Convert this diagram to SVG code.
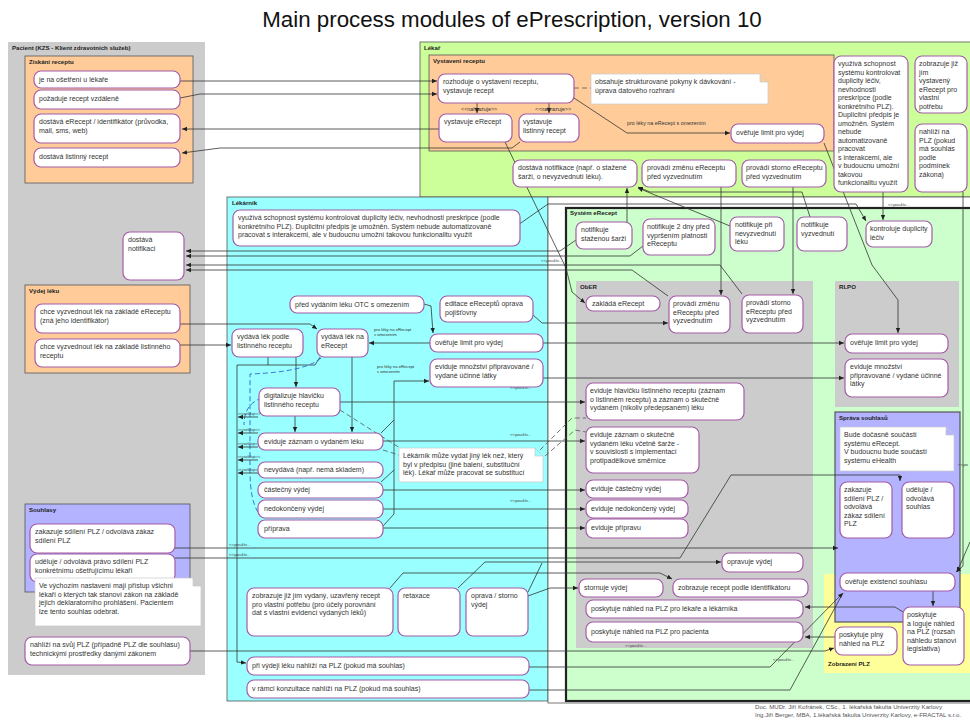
<svg xmlns="http://www.w3.org/2000/svg" width="970" height="722" viewBox="0 0 970 722">
<defs>
<style>
text{font-family:"Liberation Sans",Arial,sans-serif;fill:#333}
.t{font-size:7px}
.lb{font-size:6.1px;font-weight:bold;fill:#222}
.s{font-size:4.2px}
.m{font-size:5.4px}
.r{font-size:3.6px}
.u{font-size:4.4px;fill:#444}
.f{font-size:6.1px;fill:#555}
.n{fill:#fff;stroke:#a45aa8;stroke-width:1.2}
.note{fill:#fff;stroke:#c8c8c8;stroke-width:0.7}
.c{fill:none;stroke:#333;stroke-width:0.8}
.a{marker-end:url(#ah)}
.d{fill:none;stroke:#555;stroke-width:0.8;stroke-dasharray:5 3}
.bd{fill:none;stroke:#3a6fd8;stroke-width:1;stroke-dasharray:5 3}
</style>
<marker id="ah" markerWidth="6" markerHeight="6" refX="5" refY="3" orient="auto" markerUnits="userSpaceOnUse"><path d="M0,0.8 L5,3 L0,5.2 Z" fill="#222"/></marker>
</defs>
<rect width="970" height="722" fill="#fff"/>
<text x="512" y="27" text-anchor="middle" style="font-size:22.3px;fill:#111">Main process modules of ePrescription, version 10</text>

<!-- swimlanes and packages -->
<g id="zones">
<rect x="8" y="42" width="197" height="633" fill="#cccccc"/>
<text class="lb" x="12" y="50">Pacient (KZS - Klient zdravotních služeb)</text>
<rect x="25" y="56" width="168" height="127" fill="#ffcc99" stroke="#555" stroke-width="0.8"/>
<text class="lb" x="29" y="64">Získání receptu</text>
<rect x="25" y="285" width="165" height="88" fill="#ffcc99" stroke="#555" stroke-width="0.8"/>
<text class="lb" x="29" y="293">Výdej léku</text>
<rect x="25" y="504" width="165" height="88" fill="#b3b3ff" stroke="#555" stroke-width="0.8"/>
<text class="lb" x="29" y="512">Souhlasy</text>
<rect x="420" y="42" width="552" height="155" fill="#ccff99" stroke="#555" stroke-width="0.8"/>
<text class="lb" x="424" y="50">Lékař</text>
<rect x="429" y="55" width="405" height="96" fill="#ffcc99" stroke="#555" stroke-width="0.8"/>
<text class="lb" x="433" y="63">Vystavení receptu</text>
<rect x="227" y="197" width="321" height="504" fill="#99ffff" stroke="#555" stroke-width="0.8"/>
<text class="lb" x="232" y="205">Lékárník</text>
<rect x="548" y="197" width="424" height="506" fill="#fff" stroke="#555" stroke-width="0.8"/>
<rect x="566" y="208" width="410" height="493" fill="#ccffcc" stroke="#222" stroke-width="2.2"/>
<text class="lb" x="570" y="215">Systém eRecept</text>
<rect x="576" y="281" width="237" height="367" fill="#cccccc"/>
<text class="lb" x="580" y="289">ObER</text>
<rect x="835" y="281" width="124" height="126" fill="#cccccc"/>
<text class="lb" x="839" y="289">RLPO</text>
<rect x="824" y="574" width="148" height="99" fill="#ffff99"/>
<text class="lb" x="828" y="666">Zobrazení PLZ</text>
<rect x="835" y="412" width="125" height="210" fill="#b3b3ff" stroke="#555" stroke-width="1.2"/>
<text class="lb" x="839" y="420">Správa souhlasů</text>
</g>

<!-- connectors -->
<g id="connectors">
<path class="c a" d="M180,81 H437"/>
<path class="c a" d="M180,98 L200,94 H437"/>
<path class="c a" d="M439,129 H182"/>
<path class="c a" d="M520,142 L512,148 H220 L182,153"/>
<path class="c a" d="M477,103 V113"/>
<path class="c a" d="M549,103 V113"/>
<text class="m" x="461" y="111">&lt;&lt;nahrazuje&gt;&gt;</text>
<text class="m" x="535" y="111">&lt;&lt;nahrazuje&gt;&gt;</text>
<path class="d" d="M574,88 H591"/>
<path class="c a" d="M574,98 L627,133 H730"/>
<text class="m" x="627" y="125">pro léky na eRecept s omezením</text>
<path class="c a" d="M824,143 L872,265 L898,300 V333"/>
<path class="c a" d="M721,187 V295"/>
<path class="c a" d="M793,187 V294"/>
<path class="c a" d="M883,192 V220"/>
<text class="u" x="888" y="206">&lt;&lt;použív...</text>
<path class="c a" d="M963,192 V566 L956,572"/>
<path class="c a" d="M970,542 L957,572"/>
<path class="c a" d="M627,222 V188"/>
<path class="c a" d="M810,217 L802,192 H650 L638,187"/>
<path class="c a" d="M730,226 L638,188"/>
<path class="c a" d="M518,225 L548,204 H856 L866,221"/>
<path class="c a" d="M576,240 L560,251 H186"/>
<path class="c a" d="M643,246 L630,256 H186"/>
<path class="c a" d="M742,294 L720,265 H186"/>
<path class="c a" d="M668,296 L632,270 H186"/>
<path class="c a" d="M505,142 L566,268 L572,292 L585,303"/>
<text class="u" x="541" y="262">&lt;&lt;použív...</text>
<path class="c a" d="M533,315 L542,323 H668"/>
<path class="c a" d="M543,343 H844"/>
<path class="c a" d="M543,378 H844"/>
<text class="u" x="510" y="389">&lt;&lt;použív...</text>
<path class="c a" d="M340,402 H585"/>
<path class="c a" d="M383,441 H585"/>
<text class="u" x="510" y="436">&lt;&lt;použív...</text>
<path class="c a" d="M383,490 H585"/>
<path class="c a" d="M383,509 H585"/>
<text class="u" x="510" y="502">&lt;&lt;použív...</text>
<path class="c a" d="M383,528 H585"/>
<path class="c a" d="M383,526 L394,514 V381 H429"/>
<path class="c" d="M381,433 L394,420"/>
<path class="c" d="M381,482 L394,470"/>
<path class="c a" d="M352,357 V432"/>
<path class="c a" d="M296,357 V387"/>
<path class="c a" d="M295,416 V432"/>
<path class="c a" d="M430,343 H369"/>
<text class="s" x="374" y="331">pro léky na eRecept</text>
<text class="s" x="374" y="336">s omezením</text>
<text class="s" x="377" y="368">pro léky na eRecept</text>
<text class="s" x="377" y="373">s omezením</text>
<path class="c a" d="M424,304 L431,306 L433,333"/>
<path class="c a" d="M180,324 H310 L317,329"/>
<path class="c a" d="M180,345 H231"/>
<path class="c a" d="M320,357 L315,365 H237 V662 L246,663"/>
<path class="c" d="M268,357 V365"/>
<path class="bd" d="M321,358 Q305,372 250,374 V470 Q250,500 258,512"/>
<path class="bd" d="M262,398 Q244,404 244,425"/>
<path class="c a" d="M258,417 H238"/><text class="r" x="238" y="415">&lt;&lt;rozšiřuje&gt;&gt;</text>
<path class="c a" d="M258,433 H238"/><text class="r" x="238" y="431">&lt;&lt;rozšiřuje&gt;&gt;</text>
<path class="c a" d="M258,447 H238"/><text class="r" x="238" y="445">&lt;&lt;rozšiřuje&gt;&gt;</text>
<path class="c a" d="M258,460 H238"/><text class="r" x="238" y="458">&lt;&lt;rozšiřuje&gt;&gt;</text>
<path class="c a" d="M258,473 H238"/><text class="r" x="238" y="471">&lt;&lt;rozšiřuje&gt;&gt;</text>
<path class="d" d="M340,410 L400,448"/>
<path class="d" d="M383,450 L399,455"/>
<path class="d" d="M540,450 L572,418 L586,418"/>
<path class="d" d="M545,456 L575,430 L586,432"/>
<path class="c a" d="M175,548 H838"/>
<path class="c a" d="M175,558 H680 L731,475 H900 V481"/>
<text class="u" x="229" y="546">&lt;&lt;použív...</text>
<text class="u" x="229" y="556">&lt;&lt;použív...</text>
<path class="c a" d="M458,588 L485,562 H721"/>
<path class="c" d="M528,592 L542,563"/>
<path class="c a" d="M390,588 L403,573 H660 L672,579"/>
<path class="c a" d="M528,596 L550,588 H578"/>
<path class="c a" d="M933,591 V606"/>
<path class="c a" d="M903,612 L895,607 H805"/>
<path class="c a" d="M835,637 H805"/>
<path class="c a" d="M190,651 H825 L834,648"/>
<text class="u" x="773" y="661">&lt;&lt;použív...</text>
<path class="c a" d="M529,667 H770 L843,593"/>
<path class="c" d="M529,690 H790 L843,593"/>
</g>

<!-- Pacient -->
<g id="n-je-na-osetreni"><rect class="n" x="34" y="71" width="146" height="17" rx="7"/><text class="t" x="39" y="82">je na ošetření u lékaře</text></g>
<g id="n-pozaduje"><rect class="n" x="34" y="90" width="146" height="19" rx="7"/><text class="t" x="39" y="101">požaduje recept vzdáleně</text></g>
<g id="n-dostava-erecept"><rect class="n" x="34" y="114" width="146" height="29" rx="7"/><text class="t" x="39" y="124">dostává eRecept / identifikátor (průvodka,<tspan x="39" dy="8.5">mail, sms, web)</tspan></text></g>
<g id="n-dostava-listinny"><rect class="n" x="34" y="148" width="146" height="19" rx="7"/><text class="t" x="39" y="159">dostává listinný recept</text></g>
<g id="n-dostava-notifikaci"><rect class="n" x="123" y="232" width="61" height="48" rx="7"/><text class="t" x="128" y="242">dostává<tspan x="128" dy="8.5">notifikaci</tspan></text></g>
<g id="n-chce-erecept"><rect class="n" x="35" y="304" width="145" height="29" rx="7"/><text class="t" x="40" y="314">chce vyzvednout lék na základě eReceptu<tspan x="40" dy="8.5">(zná jeho identifikátor)</tspan></text></g>
<g id="n-chce-listinny"><rect class="n" x="35" y="339" width="145" height="28" rx="7"/><text class="t" x="40" y="349">chce vyzvednout lék na základě listinného<tspan x="40" dy="8.5">receptu</tspan></text></g>
<g id="n-zakazuje-p"><rect class="n" x="30" y="524" width="145" height="29" rx="7"/><text class="t" x="35" y="534">zakazuje sdílení PLZ / odvolává zákaz<tspan x="35" dy="8.5">sdílení PLZ</tspan></text></g>
<g id="n-udeluje-p"><rect class="n" x="30" y="554" width="145" height="28" rx="7"/><text class="t" x="35" y="564">uděluje / odvolává právo sdílení PLZ<tspan x="35" dy="8.5">konkrétnímu ošetřujícímu lékaři</tspan></text></g>
<g id="note-souhlas"><path class="note" d="M35,578 H193 L201,586 V626 H35 Z M193,578 V586 H201"/><text class="t" x="39" y="588">Ve výchozím nastavení mají přístup všichni<tspan x="39" dy="8.5">lékaři o kterých tak stanoví zákon na základě</tspan><tspan x="39" dy="8.5">jejich deklaratorního prohlášení. Pacientem</tspan><tspan x="39" dy="8.5">lze tento souhlas odebrat.</tspan></text></g>
<g id="n-nahlizi-p"><rect class="n" x="25" y="637" width="165" height="28" rx="7"/><text class="t" x="30" y="647">nahlíží na svůj PLZ (případně PLZ dle souhlasu)<tspan x="30" dy="8.5">technickými prostředky danými zákonem</tspan></text></g>

<!-- Lékař -->
<g id="n-rozhoduje"><rect class="n" x="438" y="74" width="136" height="29" rx="7"/><text class="t" x="443" y="84">rozhoduje o vystavení receptu,<tspan x="443" dy="8.5">vystavuje recept</tspan></text></g>
<g id="note-pokyny"><path class="note" d="M591,74 H760 L768,82 V104 H591 Z M760,74 V82 H768"/><text class="t" x="595" y="84">obsahuje strukturované pokyny k dávkování -<tspan x="595" dy="8.5">úprava datového rozhraní</tspan></text></g>
<g id="n-vystavuje-erecept"><rect class="n" x="439" y="114" width="73" height="28" rx="7"/><text class="t" x="444" y="124">vystavuje eRecept</text></g>
<g id="n-vystavuje-listinny"><rect class="n" x="519" y="114" width="60" height="28" rx="7"/><text class="t" x="523" y="124">vystavuje<tspan x="523" dy="8.5">listinný recept</tspan></text></g>
<g id="n-overuje-limit-l"><rect class="n" x="731" y="124" width="93" height="19" rx="7"/><text class="t" x="736" y="135">ověřuje limit pro výdej</text></g>
<g id="n-dostava-notifikace"><rect class="n" x="513" y="160" width="124" height="27" rx="7"/><text class="t" x="518" y="170">dostává notifikace (např. o stažené<tspan x="518" dy="8.5">šarži, o nevyzvednutí léku).</tspan></text></g>
<g id="n-zmena-l"><rect class="n" x="642" y="160" width="94" height="27" rx="7"/><text class="t" x="647" y="170">provádí změnu eReceptu<tspan x="647" dy="8.5">před vyzvednutím</tspan></text></g>
<g id="n-storno-l"><rect class="n" x="742" y="160" width="84" height="27" rx="7"/><text class="t" x="746" y="170">provádí storno eReceptu<tspan x="746" dy="8.5">před vyzvednutím</tspan></text></g>
<g id="n-vyuziva-l"><rect class="n" x="834" y="56" width="74" height="136" rx="7"/><text class="t" x="838" y="66">využívá schopnost<tspan x="838" dy="8.5">systému kontrolovat</tspan><tspan x="838" dy="8.5">duplicity léčiv,</tspan><tspan x="838" dy="8.5">nevhodnosti</tspan><tspan x="838" dy="8.5">preskripce (podle</tspan><tspan x="838" dy="8.5">konkrétního PLZ).</tspan><tspan x="838" dy="8.5">Duplicitní předpis je</tspan><tspan x="838" dy="8.5">umožněn. Systém</tspan><tspan x="838" dy="8.5">nebude</tspan><tspan x="838" dy="8.5">automatizovaně</tspan><tspan x="838" dy="8.5">pracovat</tspan><tspan x="838" dy="8.5">s interakcemi, ale</tspan><tspan x="838" dy="8.5">v budoucnu umožní</tspan><tspan x="838" dy="8.5">takovou</tspan><tspan x="838" dy="8.5">funkcionalitu využít</tspan></text></g>
<g id="n-zobrazuje-l"><rect class="n" x="915" y="56" width="52" height="57" rx="7"/><text class="t" x="919" y="66">zobrazuje již<tspan x="919" dy="8.5">jím</tspan><tspan x="919" dy="8.5">vystavený</tspan><tspan x="919" dy="8.5">eRecept pro</tspan><tspan x="919" dy="8.5">vlastní</tspan><tspan x="919" dy="8.5">potřebu</tspan></text></g>
<g id="n-nahlizi-l"><rect class="n" x="915" y="124" width="52" height="68" rx="7"/><text class="t" x="919" y="134">nahlíží na<tspan x="919" dy="8.5">PLZ (pokud</tspan><tspan x="919" dy="8.5">má souhlas</tspan><tspan x="919" dy="8.5">podle</tspan><tspan x="919" dy="8.5">podmínek</tspan><tspan x="919" dy="8.5">zákona)</tspan></text></g>

<!-- Lékárník -->
<g id="n-vyuziva-k"><rect class="n" x="233" y="210" width="287" height="36" rx="7"/><text class="t" x="238" y="220">využívá schopnost systému kontrolovat duplicity léčiv, nevhodnosti preskripce (podle<tspan x="238" dy="8.5">konkrétního PLZ). Duplicitní předpis je umožněn. Systém nebude automatizovaně</tspan><tspan x="238" dy="8.5">pracovat s interakcemi, ale v budoucnu umožní takovou funkcionalitu využít</tspan></text></g>
<g id="n-otc"><rect class="n" x="290" y="296" width="134" height="17" rx="7"/><text class="t" x="295" y="307">před vydáním léku OTC s omezením</text></g>
<g id="n-editace"><rect class="n" x="440" y="296" width="93" height="26" rx="7"/><text class="t" x="445" y="306">editace eReceptů oprava<tspan x="445" dy="8.5">pojišťovny</tspan></text></g>
<g id="n-vydava-listinny"><rect class="n" x="232" y="329" width="71" height="28" rx="7"/><text class="t" x="237" y="339">vydává lék podle<tspan x="237" dy="8.5">listinného receptu</tspan></text></g>
<g id="n-vydava-erecept"><rect class="n" x="317" y="329" width="51" height="28" rx="7"/><text class="t" x="321" y="339">vydává lék na<tspan x="321" dy="8.5">eRecept</tspan></text></g>
<g id="n-overuje-limit-k"><rect class="n" x="430" y="334" width="113" height="18" rx="7"/><text class="t" x="435" y="345">ověřuje limit pro výdej</text></g>
<g id="n-eviduje-mnozstvi-k"><rect class="n" x="430" y="359" width="113" height="28" rx="7"/><text class="t" x="435" y="369">eviduje množství připravované /<tspan x="435" dy="8.5">vydané účinné látky</tspan></text></g>
<g id="n-digitalizuje"><rect class="n" x="259" y="388" width="81" height="28" rx="7"/><text class="t" x="264" y="398">digitalizuje hlavičku<tspan x="264" dy="8.5">listinného receptu</tspan></text></g>
<g id="n-eviduje-zaznam"><rect class="n" x="258" y="433" width="125" height="17" rx="7"/><text class="t" x="264" y="444">eviduje záznam o vydaném léku</text></g>
<g id="note-substituce"><path class="note" d="M399,448 H535 L543,456 V482 H399 Z M535,448 V456 H543"/><text class="t" x="403" y="458">Lékárník může vydat jiný lék než, který<tspan x="403" dy="8.5">byl v předpisu (jiné balení, substituční</tspan><tspan x="403" dy="8.5">lék). Lékař může pracovat se substitucí</tspan></text></g>
<g id="n-nevydava"><rect class="n" x="258" y="462" width="125" height="16" rx="7"/><text class="t" x="264" y="472">nevydává (např. nemá skladem)</text></g>
<g id="n-castecny"><rect class="n" x="258" y="482" width="125" height="16" rx="7"/><text class="t" x="264" y="492">částečný výdej</text></g>
<g id="n-nedokonceny"><rect class="n" x="258" y="500" width="125" height="18" rx="7"/><text class="t" x="264" y="511">nedokončený výdej</text></g>
<g id="n-priprava"><rect class="n" x="258" y="520" width="125" height="18" rx="7"/><text class="t" x="264" y="531">příprava</text></g>
<g id="n-zobrazuje-k"><rect class="n" x="247" y="588" width="146" height="48" rx="7"/><text class="t" x="252" y="598">zobrazuje již jím vydaný, uzavřený recept<tspan x="252" dy="8.5">pro vlastní potřebu (pro účely porovnání</tspan><tspan x="252" dy="8.5">dat s vlastní evidencí vydaných léků)</tspan></text></g>
<g id="n-retaxace"><rect class="n" x="398" y="588" width="62" height="48" rx="7"/><text class="t" x="403" y="598">retaxace</text></g>
<g id="n-oprava-storno"><rect class="n" x="466" y="588" width="62" height="48" rx="7"/><text class="t" x="471" y="598">oprava / storno<tspan x="471" dy="8.5">výdej</tspan></text></g>
<g id="n-pri-vydeji"><rect class="n" x="247" y="657" width="282" height="18" rx="7"/><text class="t" x="252" y="668">při výdeji léku nahlíží na PLZ (pokud má souhlas)</text></g>
<g id="n-konzultace"><rect class="n" x="247" y="680" width="282" height="18" rx="7"/><text class="t" x="252" y="691">v rámci konzultace nahlíží na PLZ (pokud má souhlas)</text></g>

<!-- Systém eRecept -->
<g id="n-notif-sarze"><rect class="n" x="576" y="222" width="56" height="27" rx="7"/><text class="t" x="581" y="232">notifikuje<tspan x="581" dy="8.5">staženou šarži</tspan></text></g>
<g id="n-notif-2dny"><rect class="n" x="643" y="219" width="72" height="36" rx="7"/><text class="t" x="647" y="229">notifikuje 2 dny před<tspan x="647" dy="8.5">vypršením platnosti</tspan><tspan x="647" dy="8.5">eReceptu</tspan></text></g>
<g id="n-notif-nevyzvednuti"><rect class="n" x="730" y="217" width="54" height="34" rx="7"/><text class="t" x="735" y="227">notifikuje při<tspan x="735" dy="8.5">nevyzvednutí</tspan><tspan x="735" dy="8.5">léku</tspan></text></g>
<g id="n-notif-vyzvednuti"><rect class="n" x="797" y="217" width="50" height="34" rx="7"/><text class="t" x="801" y="227">notifikuje<tspan x="801" dy="8.5">vyzvednutí</tspan></text></g>
<g id="n-kontroluje"><rect class="n" x="866" y="221" width="66" height="26" rx="7"/><text class="t" x="870" y="231">kontroluje duplicity<tspan x="870" dy="8.5">léčiv</tspan></text></g>
<g id="n-zaklada"><rect class="n" x="586" y="296" width="74" height="15" rx="7"/><text class="t" x="592" y="306">zakládá eRecept</text></g>
<g id="n-zmena-o"><rect class="n" x="669" y="296" width="61" height="37" rx="7"/><text class="t" x="673" y="306">provádí změnu<tspan x="673" dy="8.5">eReceptu před</tspan><tspan x="673" dy="8.5">vyzvednutím</tspan></text></g>
<g id="n-storno-o"><rect class="n" x="742" y="295" width="61" height="38" rx="7"/><text class="t" x="746" y="305">provádí storno<tspan x="746" dy="8.5">eReceptu před</tspan><tspan x="746" dy="8.5">vyzvednutím</tspan></text></g>
<g id="n-eviduje-hlavicku"><rect class="n" x="586" y="383" width="158" height="37" rx="7"/><text class="t" x="590" y="393">eviduje hlavičku listinného receptu (záznam<tspan x="590" dy="8.5">o listinném receptu) a záznam o skutečně</tspan><tspan x="590" dy="8.5">vydaném (nikoliv předepsaném) léku</tspan></text></g>
<g id="n-eviduje-sarze"><rect class="n" x="586" y="427" width="113" height="46" rx="7"/><text class="t" x="590" y="437">eviduje záznam o skutečně<tspan x="590" dy="8.5">vydaném léku včetně šarže -</tspan><tspan x="590" dy="8.5">v souvislosti s implementací</tspan><tspan x="590" dy="8.5">protipadělkové směrnice</tspan></text></g>
<g id="n-ev-castecny"><rect class="n" x="586" y="480" width="102" height="18" rx="7"/><text class="t" x="591" y="491">eviduje částečný výdej</text></g>
<g id="n-ev-nedokonceny"><rect class="n" x="586" y="500" width="102" height="18" rx="7"/><text class="t" x="591" y="511">eviduje nedokončený výdej</text></g>
<g id="n-ev-pripravu"><rect class="n" x="586" y="519" width="102" height="19" rx="7"/><text class="t" x="591" y="530">eviduje přípravu</text></g>
<g id="n-opravuje"><rect class="n" x="722" y="553" width="81" height="19" rx="7"/><text class="t" x="727" y="564">opravuje výdej</text></g>
<g id="n-stornuje"><rect class="n" x="579" y="579" width="84" height="18" rx="7"/><text class="t" x="584" y="590">stornuje výdej</text></g>
<g id="n-zobrazuje-recept"><rect class="n" x="673" y="579" width="135" height="18" rx="7"/><text class="t" x="678" y="590">zobrazuje recept podle identifikátoru</text></g>
<g id="n-nahled-lekar"><rect class="n" x="586" y="600" width="217" height="18" rx="7"/><text class="t" x="591" y="611">poskytuje náhled na PLZ pro lékaře a lékárníka</text></g>
<g id="n-nahled-pacient"><rect class="n" x="586" y="622" width="217" height="20" rx="7"/><text class="t" x="591" y="634">poskytuje náhled na PLZ pro pacienta</text></g>
<text class="u" x="625" y="647">&lt;&lt;použív...</text>
<g id="n-overuje-limit-r"><rect class="n" x="845" y="334" width="103" height="19" rx="7"/><text class="t" x="850" y="345">ověřuje limit pro výdej</text></g>
<g id="n-eviduje-mnozstvi-r"><rect class="n" x="845" y="359" width="103" height="38" rx="7"/><text class="t" x="850" y="369">eviduje množství<tspan x="850" dy="8.5">připravované / vydané účinné</tspan><tspan x="850" dy="8.5">látky</tspan></text></g>
<g id="note-ehealth"><path class="note" d="M840,427 H946 L954,435 V471 H840 Z M946,427 V435 H954"/><text class="t" x="844" y="437">Bude dočasně součástí<tspan x="844" dy="8.5">systému eRecept.</tspan><tspan x="844" dy="8.5">V budoucnu bude součástí</tspan><tspan x="844" dy="8.5">systému eHealth</tspan></text></g>
<text class="u" x="958" y="466">&lt;&lt;po</text>
<g id="n-zakazuje-s"><rect class="n" x="840" y="482" width="52" height="56" rx="7"/><text class="t" x="844" y="492">zakazuje<tspan x="844" dy="8.5">sdílení PLZ /</tspan><tspan x="844" dy="8.5">odvolává</tspan><tspan x="844" dy="8.5">zákaz sdílení</tspan><tspan x="844" dy="8.5">PLZ</tspan></text></g>
<g id="n-udeluje-s"><rect class="n" x="902" y="482" width="52" height="56" rx="7"/><text class="t" x="906" y="492">uděluje /<tspan x="906" dy="8.5">odvolává</tspan><tspan x="906" dy="8.5">souhlas</tspan></text></g>
<g id="n-overuje-souhlas"><rect class="n" x="840" y="573" width="115" height="18" rx="7"/><text class="t" x="845" y="584">ověřuje existenci souhlasu</text></g>
<g id="n-loguje"><rect class="n" x="903" y="607" width="61" height="58" rx="7"/><text class="t" x="907" y="617">poskytuje<tspan x="907" dy="8.5">a loguje náhled</tspan><tspan x="907" dy="8.5">na PLZ (rozsah</tspan><tspan x="907" dy="8.5">náhledu stanoví</tspan><tspan x="907" dy="8.5">legislativa)</tspan></text></g>
<g id="n-plny-nahled"><rect class="n" x="835" y="627" width="62" height="28" rx="7"/><text class="t" x="839" y="637">poskytuje plný<tspan x="839" dy="8.5">náhled na PLZ</tspan></text></g>

<text class="f" x="755" y="709">Doc. MUDr. Jiří Kofránek, CSc., 1. lékařská fakulta Univerzity Karlovy</text>
<text class="f" x="755" y="717">Ing.Jiří Berger,  MBA, 1.lékařská fakulta Univerzity Karlovy, e-FRACTAL s.r.o.</text>
</svg>
